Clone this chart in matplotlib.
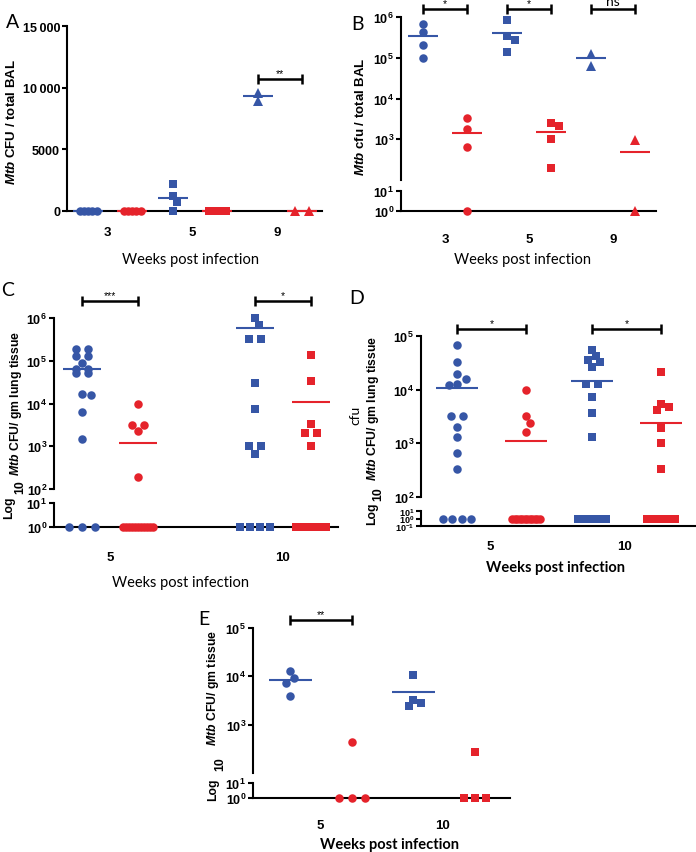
import numpy as np
import matplotlib.pyplot as plt
from matplotlib.ticker import NullLocator, NullFormatter
from matplotlib.transforms import blended_transform_factory

W, H = 696, 853
BLUE = '#3656a6'
RED = '#e5232b'
TICK_FONT = 'Liberation Sans'
LABEL_FONT = 'Lato'

plt.rcParams['mathtext.fontset'] = 'custom'
plt.rcParams['mathtext.it'] = 'Liberation Sans:italic:bold'
plt.rcParams['mathtext.rm'] = 'Liberation Sans'
plt.rcParams['mathtext.bf'] = 'Liberation Sans:bold'
plt.rcParams['axes.linewidth'] = 1.5

# ---- values (0 = not detected, drawn on the baseline) ----
a_weeks = ['3', '5', '9']
a_blue = [[0, 0, 0, 0, 0], [2200, 1200, 700, 0], [9600, 8900]]
a_red = [[0, 0, 0, 0, 0], [0, 0, 0, 0], [0, 0]]
a_blue_mean = [0, 1050, 9300]
a_red_mean = [0, 0, 0]
a_stars = [None, None, '**']
a_yticks = [0, 5000, 10000, 15000]
a_yticklabels = ['0', '5000', '10\u2009000', '15\u2009000']

b_weeks = ['3', '5', '9']
b_blue = [[6.7e5, 4.3e5, 2.0e5, 1.0e5], [8.5e5, 3.4e5, 2.7e5, 1.35e5], [1.25e5, 6.4e4]]
b_red = [[3300, 1800, 660, 0], [2500, 2150, 1000, 200], [950, 0]]
b_blue_mean = [3.5e5, 4.0e5, 1.0e5]
b_red_mean = [1450, 1500, 500]
b_stars = ['*', '*', 'ns']

c_weeks = ['5', '10']
c_blue = [[1.9e5, 1.9e5, 1.3e5, 1.3e5, 8.9e4, 6.4e4, 6.4e4, 5.3e4, 5.3e4, 1.7e4, 1.6e4, 6300, 1500, 0, 0, 0],
          [1.0e6, 7.0e5, 3.3e5, 3.3e5, 3.0e4, 7400, 1000, 1000, 660, 0, 0, 0, 0]]
c_red = [[1.0e4, 3200, 3200, 2300, 195, 0, 0, 0, 0, 0, 0, 0, 0, 0, 0, 0],
         [1.35e5, 3.3e4, 3300, 2000, 2000, 1000, 0, 0, 0, 0, 0, 0, 0, 0, 0, 0]]
c_blue_mean = [6.4e4, 5.7e5]
c_red_mean = [1200, 1.07e4]
c_stars = ['***', '*']

d_weeks = ['5', '10']
d_blue = [[6.7e4, 3.3e4, 2.0e4, 1.6e4, 1.3e4, 1.2e4, 3300, 3300, 2000, 1300, 670, 330, 0, 0, 0, 0],
          [5.5e4, 4.3e4, 3.6e4, 3.3e4, 2.6e4, 1.3e4, 1.3e4, 7400, 3600, 1300, 0, 0, 0, 0, 0, 0]]
d_red = [[1.0e4, 3300, 2400, 1600, 0, 0, 0, 0, 0, 0, 0, 0, 0, 0, 0, 0],
         [2.1e4, 5500, 4700, 4200, 1900, 1000, 330, 0, 0, 0, 0, 0, 0, 0, 0, 0]]
d_blue_mean = [1.07e4, 1.43e4]
d_red_mean = [1100, 2400]
d_stars = ['*', '*']

e_weeks = ['5', '10']
e_blue = [[1.27e4, 9300, 7400, 4000], [1.08e4, 3300, 2800, 2400]]
e_red = [[440, 0, 0, 0], [270, 0, 0, 0]]
e_blue_mean = [8300, 4800]
e_red_mean = [None, None]
e_stars = ['**', None]

fig = plt.figure(figsize=(W / 100, H / 100), dpi=100)


def px_axes(x0, x1, y0, y1, log=False):
    ax = fig.add_axes([x0 / W, 1 - y1 / H, (x1 - x0) / W, (y1 - y0) / H])
    ax.patch.set_alpha(0)
    if log:
        ax.set_yscale('log')
    ax.spines['top'].set_visible(False)
    ax.spines['right'].set_visible(False)
    ax.tick_params(axis='y', length=3.5, width=1.5, pad=1.5)
    ax.yaxis.set_minor_locator(NullLocator())
    ax.yaxis.set_minor_formatter(NullFormatter())
    return ax


def column_x(ax, xc, vals, diam, maxw):
    # prism-like column scatter, worked out in pixels
    vals = np.asarray(vals, float)
    tr = ax.transData
    ppu = tr.transform((1, 0))[0] - tr.transform((0, 0))[0]
    ys = tr.transform(np.column_stack([np.full(len(vals), xc), vals]))[:, 1]
    offs = np.zeros(len(vals))
    done = np.zeros(len(vals), bool)
    for v in np.unique(vals):
        idx = np.flatnonzero(vals == v)
        if len(idx) > 1:
            gap = min(1.5 * diam, maxw / (len(idx) - 1))
            offs[idx] = (np.arange(len(idx)) - (len(idx) - 1) / 2) * gap
            done[idx] = True
    for i in np.argsort(-ys):
        if done[i]:
            continue
        for k in range(60):
            cand = (k + 1) // 2 * 0.5 * diam * (1 if k % 2 else -1)
            if all(np.hypot(cand - offs[j], ys[i] - ys[j]) >= 0.9 * diam for j in np.flatnonzero(done)):
                break
        offs[i] = cand
        done[i] = True
    return xc + offs / ppu


def log_labels(ticks):
    return [r'$\mathbf{10^{%d}}$' % round(np.log10(t)) for t in ticks]


def draw_panel(g, weeks, blue, red, blue_mean, red_mean, stars, markers):
    left, right = g['x']
    x_first, step = g['groups']
    xlim = ((left - x_first) / step, (right - x_first) / step)
    if 'lo' in g:
        hi = px_axes(left, right, *g['hi'], log=True)
        lo = px_axes(left, right, *g['lo'], log=True)
        hi.spines['bottom'].set_visible(False)
        hi.set_xticks([])
        hi.set_ylim(g['hi_lim'])
        lo.set_ylim(g['lo_lim'])
        lo.set_yticks(g['lo_ticks'], log_labels(g['lo_ticks']),
                      fontsize=g.get('lo_fs', 9), fontfamily=TICK_FONT)
        hi.set_yticks(g['hi_ticks'], log_labels(g['hi_ticks']), fontsize=9, fontfamily=TICK_FONT)
        for ax in (hi, lo):
            ax.yaxis.set_minor_locator(NullLocator())
            ax.yaxis.set_minor_formatter(NullFormatter())
        base = 1
    else:
        hi = px_axes(left, right, *g['hi'])
        lo = hi
        hi.set_ylim(g['hi_lim'])
        hi.set_yticks(g['hi_ticks'], g['hi_labels'], fontsize=9, fontfamily=TICK_FONT,
                      fontweight='bold')
        base = 0
    hi.set_xlim(xlim)
    lo.set_xlim(xlim)
    lo.set_xticks(range(len(weeks)), weeks, fontsize=9.5, fontfamily=TICK_FONT, fontweight='bold')
    lo.tick_params(axis='x', length=0, pad=g['xpad'])

    sizes = {'o': 8.5, 's': 7.5, '^': 9.5}
    for gi in range(len(weeks)):
        groups = [(blue[gi], blue_mean[gi], BLUE, g['side'][0]),
                  (red[gi], red_mean[gi], RED, g['side'][1])]
        for vals, mean, color, side in groups:
            xc = gi + side / step
            vals = np.asarray(vals, float)
            m = markers[gi]
            kw = dict(ls='none', marker=m, ms=sizes[m] * 0.72, mfc=color, mec=color,
                      mew=0, clip_on=False, zorder=4)
            if lo is hi:
                hi.plot(column_x(hi, xc, vals, sizes[m], g['maxw']), vals, **kw)
            else:
                pos = vals[vals > 0]
                nz = int(np.sum(vals == 0))
                if len(pos):
                    hi.plot(column_x(hi, xc, pos, sizes[m], g['maxw']), pos, **kw)
                if nz:
                    yz = np.full(nz, base)
                    lo.plot(column_x(lo, xc, yz, sizes[m], g['maxw']), yz, **kw)
            if mean is not None:
                ax = hi if (mean > 0 or lo is hi) else lo
                hw = g['mean_w'] / 2 / step
                ax.plot([xc - hw, xc + hw], [mean, mean], color=color, lw=1.5,
                        clip_on=False, zorder=5, solid_capstyle='butt')

    tr = blended_transform_factory(hi.transData, fig.transFigure)
    ys = 1 - g['sig_y'] / H
    cap = 5 / H
    for gi, s in enumerate(stars):
        if not s:
            continue
        x0 = gi + g['side'][0] / step
        x1 = gi + g['side'][1] / step
        kw = dict(color='black', lw=1.8, transform=tr, clip_on=False, solid_capstyle='butt')
        hi.plot([x0, x1], [ys, ys], **kw)
        hi.plot([x0, x0], [ys - cap, ys + cap], **kw)
        hi.plot([x1, x1], [ys - cap, ys + cap], **kw)
        if s == 'ns':
            hi.text((x0 + x1) / 2, ys + 2 / H, s, transform=tr, ha='center', va='bottom',
                    fontsize=10, fontfamily=LABEL_FONT)
        else:
            hi.text((x0 + x1) / 2, ys + 1 / H, s, transform=tr, ha='center', va='bottom',
                    fontsize=7.5, fontfamily=TICK_FONT)
    return hi, lo


def ptext(x, y, s, **kw):
    fig.text(x / W, 1 - y / H, s, ha='center', va='center', **kw)


# ---- A ----
draw_panel(dict(x=(67, 322), hi=(27, 212), hi_lim=(0, 15000), hi_ticks=a_yticks,
                hi_labels=a_yticklabels, groups=(107, 85), side=(-19, 25), xpad=11,
                maxw=17, mean_w=30, sig_y=80),
           a_weeks, a_blue, a_red, a_blue_mean, a_red_mean, a_stars, ['o', 's', '^'])

# ---- B ----
draw_panel(dict(x=(401, 656), hi=(18, 181), hi_lim=(1e2, 1e6), hi_ticks=[1e3, 1e4, 1e5, 1e6],
                lo=(192, 212), lo_lim=(1, 10), lo_ticks=[1, 10], groups=(445, 84),
                side=(-22, 22), xpad=16, maxw=20, mean_w=30, sig_y=10),
           b_weeks, b_blue, b_red, b_blue_mean, b_red_mean, b_stars, ['o', 's', '^'])

# ---- C ----
draw_panel(dict(x=(54, 338), hi=(319, 490), hi_lim=(1e2, 1e6),
                hi_ticks=[1e2, 1e3, 1e4, 1e5, 1e6], lo=(504, 528), lo_lim=(1, 10),
                lo_ticks=[1, 10], groups=(110, 173), side=(-28, 28), xpad=17,
                maxw=30, mean_w=38, sig_y=302),
           c_weeks, c_blue, c_red, c_blue_mean, c_red_mean, c_stars, ['o', 's'])

# ---- D ----
draw_panel(dict(x=(421, 695), hi=(337, 498), hi_lim=(1e2, 1e5), hi_ticks=[1e2, 1e3, 1e4, 1e5],
                lo=(512, 527), lo_lim=(0.1, 10), lo_ticks=[0.1, 1, 10], lo_fs=6.5,
                groups=(490, 135), side=(-33, 36), xpad=10, maxw=28, mean_w=42, sig_y=330),
           d_weeks, d_blue, d_red, d_blue_mean, d_red_mean, d_stars, ['o', 's'])

# ---- E ----
draw_panel(dict(x=(253, 510), hi=(629, 774), hi_lim=(1e2, 1e5), hi_ticks=[1e3, 1e4, 1e5],
                lo=(784, 799), lo_lim=(1, 10), lo_ticks=[1, 10], groups=(320, 123),
                side=(-30, 32), xpad=15, maxw=26, mean_w=43, sig_y=621),
           e_weeks, e_blue, e_red, e_blue_mean, e_red_mean, e_stars, ['o', 's'])

# ---- labels ----
lab = dict(fontfamily=TICK_FONT, fontweight='bold', fontsize=9.5, rotation=90)
lab2 = dict(lab, fontsize=8.8)
ptext(12, 122, r'$\mathit{Mtb}$ CFU / total BAL', **lab)
ptext(361, 117, r'$\mathit{Mtb}$ cfu / total BAL', **lab)
ptext(16, 403, r'$\mathit{Mtb}$ CFU/ gm lung tissue', **lab2)
ptext(20, 487, '10', **lab2)
ptext(9, 508, 'Log', **lab2)
ptext(373, 408, r'$\mathit{Mtb}$ CFU/ gm lung tissue', **lab2)
ptext(378, 494, '10', **lab2)
ptext(372, 514, 'Log', **lab2)
ptext(355, 415, 'cfu', fontfamily=LABEL_FONT, fontsize=10, rotation=90)
ptext(213, 688, r'$\mathit{Mtb}$ CFU/ gm tissue', **lab2)
ptext(220, 764, '10', **lab2)
ptext(213, 790, 'Log', **lab2)

xl = dict(fontfamily=LABEL_FONT, fontsize=10.5)
ptext(190, 260, 'Weeks post infection', **xl)
ptext(523, 260, 'Weeks post infection', **xl)
ptext(180, 583, 'Weeks post infection', **xl)
ptext(556, 568, 'Weeks post infection', fontweight='bold', **xl)
ptext(390, 845, 'Weeks post infection', fontweight='bold', **xl)

for letter, x, y in [('A', 13, 22), ('B', 357, 25), ('C', 8, 290), ('D', 357, 299), ('E', 204, 620)]:
    ptext(x, y, letter, fontfamily=LABEL_FONT, fontsize=14)

fig.savefig('out.png', dpi=100)
